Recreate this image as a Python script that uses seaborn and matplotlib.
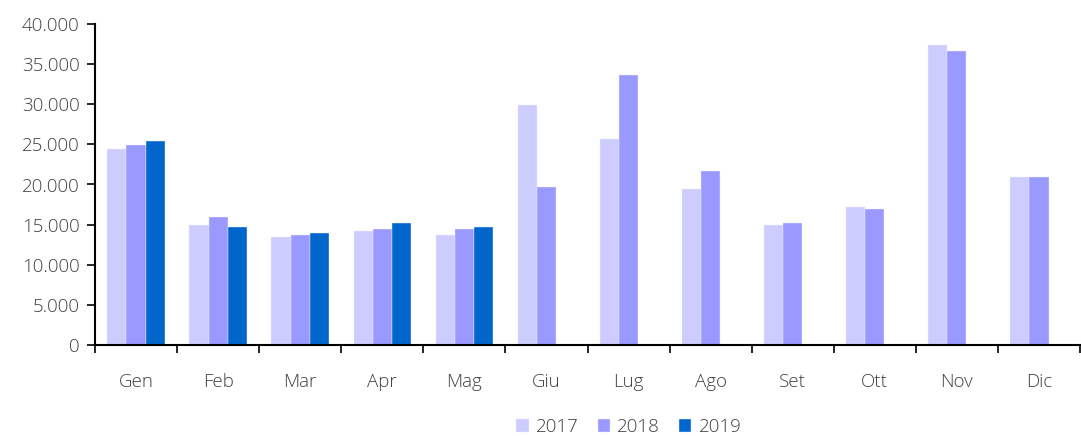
import matplotlib
matplotlib.use("Agg")
import matplotlib.pyplot as plt
import seaborn as sns
import pandas as pd
import numpy as np
from matplotlib.ticker import FuncFormatter, FixedLocator

months = ["Gen", "Feb", "Mar", "Apr", "Mag", "Giu", "Lug", "Ago", "Set", "Ott", "Nov", "Dic"]
v2017 = [24400, 14950, 13450, 14200, 13700, 29900, 25700, 19400, 14950, 17200, 37400, 20900]
v2018 = [24900, 15950, 13700, 14450, 14450, 19700, 33600, 21700, 15200, 16900, 36600, 20900]
v2019 = [25400, 14700, 13950, 15200, 14700, np.nan, np.nan, np.nan, np.nan, np.nan, np.nan, np.nan]
years = ["2017", "2018", "2019"]
colors = ["#CCCCFF", "#9999FF", "#0066CC"]

rows = []
for y, vals in zip(years, [v2017, v2018, v2019]):
    for m, v in zip(months, vals):
        rows.append({"mese": m, "anno": y, "valore": v})
df = pd.DataFrame(rows)

sns.set_theme(style="white")
plt.rcParams['font.family'] = ['Open Sans', 'DejaVu Sans']
plt.rcParams['font.weight'] = 'light'

fig = plt.figure(figsize=(10.81, 4.36), dpi=100)
ax = fig.add_axes([95/1081, (436-345)/436, (1080-95)/1081, (345-24)/436])

sns.barplot(data=df, x="mese", y="valore", hue="anno", order=months, hue_order=years,
            palette=colors, width=0.7, saturation=1, errorbar=None, ax=ax,
            edgecolor="#EEEEFF", linewidth=0.3)

ax.set_ylim(0, 40000)
ax.set_xlim(-0.5, 11.5)
ax.set_yticks(np.arange(0, 40001, 5000))
ax.yaxis.set_major_formatter(FuncFormatter(lambda v, p: f"{int(v):,}".replace(",", ".")))
ax.set_xlabel("")
ax.set_ylabel("")

for s in ["top", "right"]:
    ax.spines[s].set_visible(False)
for s in ["left", "bottom"]:
    ax.spines[s].set_color("black")
    ax.spines[s].set_linewidth(1.5)

fs = 13.5
ax.tick_params(axis="y", which="major", direction="out", length=6, width=1.2, color="black",
               labelsize=fs, labelcolor="#404040", pad=5, left=True)
ax.tick_params(axis="x", which="major", length=0, labelsize=fs, labelcolor="#404040", pad=20)
ax.xaxis.set_minor_locator(FixedLocator(np.arange(-0.5, 11.6, 1.0)))
ax.tick_params(axis="x", which="minor", direction="out", length=6, width=1.2, color="black", bottom=True)

ax.legend(loc="upper center", bbox_to_anchor=(0.542, -0.187), ncol=3, frameon=False,
          fontsize=fs, handlelength=0.65, handleheight=0.65, handletextpad=0.4, columnspacing=1.0,
          labelcolor="#404040", borderpad=0.2)

fig.savefig("out.png", dpi=100)
